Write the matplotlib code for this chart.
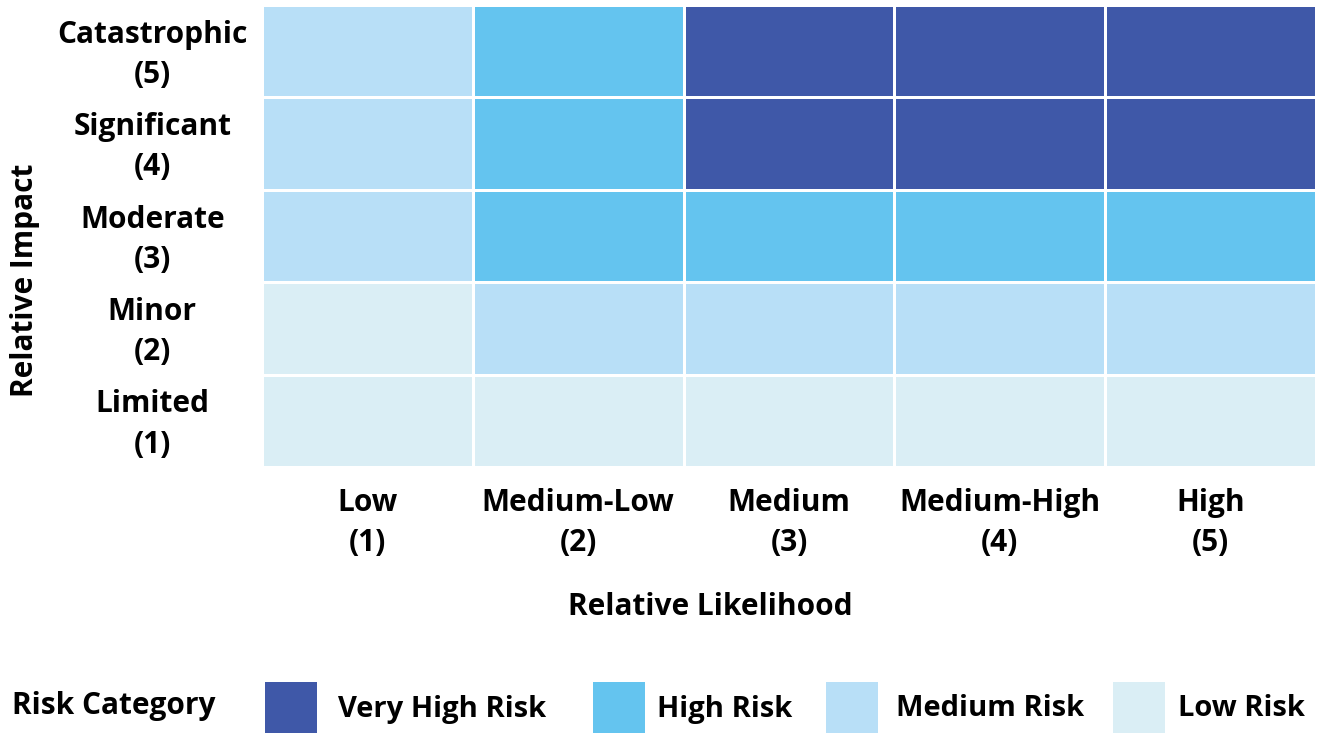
import matplotlib.pyplot as plt
from matplotlib.colors import ListedColormap
from matplotlib.patches import Rectangle
from matplotlib.transforms import ScaledTranslation

plt.rcParams['font.family'] = ['Open Sans', 'DejaVu Sans']
plt.rcParams['font.weight'] = 'bold'

likelihood = ["Low\n(1)", "Medium-Low\n(2)", "Medium\n(3)", "Medium-High\n(4)", "High\n(5)"]
impact = ["Catastrophic\n(5)", "Significant\n(4)", "Moderate\n(3)", "Minor\n(2)", "Limited\n(1)"]
# 0 = low, 1 = medium, 2 = high, 3 = very high; rows from top (impact 5) down
risk = [
    [1, 2, 3, 3, 3],
    [1, 2, 3, 3, 3],
    [1, 2, 2, 2, 2],
    [0, 1, 1, 1, 1],
    [0, 0, 0, 0, 0],
]
categories = ["Low Risk", "Medium Risk", "High Risk", "Very High Risk"]
colors = ["#DAEEF5", "#B8DFF7", "#64C4EF", "#3F58A8"]

fig = plt.figure(figsize=(13.3, 7.33), dpi=100)
ax = fig.add_axes([262 / 1330, 1 - 467 / 733, 1054 / 1330, 462 / 733])

cmap = ListedColormap(colors)
ax.pcolormesh(risk, cmap=cmap, vmin=-0.5, vmax=3.5, edgecolors="white", linewidth=1.8)
ax.set_xlim(0, 5)
ax.set_ylim(5, 0)
for s in ax.spines.values():
    s.set_visible(False)

ax.set_xticks([i + 0.5 for i in range(5)])
ax.set_xticklabels(likelihood, fontsize=21.5, linespacing=1.45)
ax.set_yticks([i + 0.5 for i in range(5)])
ax.set_yticklabels(impact, fontsize=21.5, linespacing=1.45, ha="center")
ax.tick_params(axis="x", length=0, pad=15)
ax.tick_params(axis="y", length=0, pad=79)
# nudge the row labels up a little
shift = ScaledTranslation(0, 5 / 100, fig.dpi_scale_trans)
for lbl in ax.get_yticklabels():
    lbl.set_transform(lbl.get_transform() + shift)

fig.text(25 / 1330, 1 - 280 / 733, "Relative Impact", rotation=90,
         ha="center", va="center", fontsize=21.5)
fig.text(710 / 1330, 1 - 607 / 733, "Relative Likelihood",
         ha="center", va="center", fontsize=21.5)

# legend row: swatch left edge and label left edge in pixels
fig.text(12 / 1330, 1 - 706 / 733, "Risk Category", ha="left", va="center", fontsize=21.5)
swatch_x = [265, 593, 826, 1113]
label_x = [338, 657, 896, 1178]
for x0, tx, name in zip(swatch_x, label_x, categories[::-1]):
    c = colors[categories.index(name)]
    fig.patches.append(Rectangle((x0 / 1330, 0), 52 / 1330, 51 / 733,
                                 transform=fig.transFigure, facecolor=c, edgecolor="none"))
    fig.text(tx / 1330, 1 - 709 / 733, name, ha="left", va="center", fontsize=21)

fig.savefig("out.png", dpi=100)
